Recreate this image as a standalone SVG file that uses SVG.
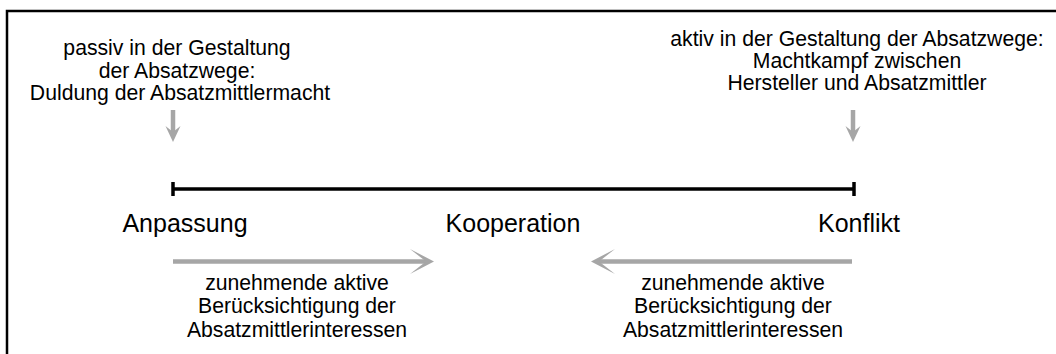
<svg xmlns="http://www.w3.org/2000/svg" width="1056" height="354" viewBox="0 0 1056 354">
  <defs>
    <style>
      .txt { font-family: "Liberation Sans", Arial, sans-serif; font-size: 21.2px; fill: #000; text-anchor: middle; }
      .lbl { font-family: "Liberation Sans", Arial, sans-serif; font-size: 25px; fill: #000; text-anchor: middle; }
      .shaft { stroke: #a6a6a6; stroke-width: 4.5; fill: none; }
      .head { fill: #a6a6a6; }
      .scale { stroke: #000; stroke-width: 3.5; fill: none; }
    </style>
  </defs>
  <rect width="1056" height="354" fill="#fff"/>

  <!-- frame (open at right and bottom) -->
  <path d="M7,354 V11 H1056" fill="none" stroke="#000" stroke-width="2.5"/>

  <!-- upper descriptions -->
  <g id="passiv">
    <text class="txt" x="177" y="55">passiv in der Gestaltung</text>
    <text class="txt" x="177" y="78">der Absatzwege:</text>
    <text class="txt" x="180" y="100">Duldung der Absatzmittlermacht</text>
  </g>
  <g id="aktiv">
    <text class="txt" x="857" y="46">aktiv in der Gestaltung der Absatzwege:</text>
    <text class="txt" x="857" y="68">Machtkampf zwischen</text>
    <text class="txt" x="857" y="90">Hersteller und Absatzmittler</text>
  </g>

  <!-- scale -->
  <g id="scale">
    <line class="scale" x1="173" y1="189" x2="854" y2="189"/>
    <line class="scale" x1="173" y1="182" x2="173" y2="196"/>
    <line class="scale" x1="854" y1="182" x2="854" y2="196"/>
  </g>

  <!-- positions on the scale -->
  <g id="anpassung"><text class="lbl" x="185" y="232">Anpassung</text></g>
  <g id="kooperation"><text class="lbl" x="513" y="232">Kooperation</text></g>
  <g id="konflikt"><text class="lbl" x="859" y="232">Konflikt</text></g>

  <!-- lower descriptions -->
  <g id="text-links">
    <text class="txt" x="297" y="290">zunehmende aktive</text>
    <text class="txt" x="297" y="313">Berücksichtigung der</text>
    <text class="txt" x="297" y="337">Absatzmittlerinteressen</text>
  </g>
  <g id="text-rechts">
    <text class="txt" x="733" y="290">zunehmende aktive</text>
    <text class="txt" x="733" y="313">Berücksichtigung der</text>
    <text class="txt" x="733" y="337">Absatzmittlerinteressen</text>
  </g>

  <!-- connectors -->
  <g id="connectors">
    <!-- vertical pointers -->
    <line class="shaft" x1="173" y1="110" x2="173" y2="134"/>
    <polygon class="head" points="173,142 165.5,126 173,132 180.5,126"/>
    <line class="shaft" x1="853" y1="110" x2="853" y2="134"/>
    <polygon class="head" points="853,142 845.5,126 853,132 860.5,126"/>
    <!-- horizontal arrows -->
    <line class="shaft" x1="173" y1="261.5" x2="428" y2="261.5"/>
    <polygon class="head" points="434,261.5 410,249 426,261.5 410,274"/>
    <line class="shaft" x1="852" y1="261.5" x2="597" y2="261.5"/>
    <polygon class="head" points="591,261.5 615,249 599,261.5 615,274"/>
  </g>
</svg>
